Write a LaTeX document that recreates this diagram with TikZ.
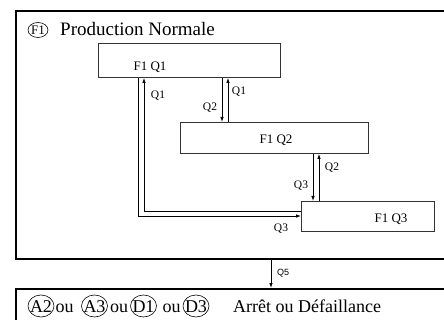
\documentclass[tikz,border=0pt]{standalone}
\usepackage{fontspec}
\setmainfont{Liberation Serif}
\newfontfamily\qfont{Liberation Sans}
\usetikzlibrary{arrows.meta}
\begin{document}
\begin{tikzpicture}[x=1pt,y=-1pt,
  box/.style={draw=black!80, line width=0.9pt, inner sep=0pt, anchor=north west},
  frame/.style={draw, line width=1.8pt, inner sep=0pt, anchor=north west},
  boxtxt/.style={font=\fontsize{13}{14}\selectfont, inner sep=0pt, anchor=base},
  lbl/.style={font=\fontsize{11.5}{12}\selectfont, inner sep=0pt, anchor=base},
  big/.style={font=\fontsize{18}{20}\selectfont, inner sep=0pt, anchor=base},
  flow/.style={line width=0.8pt, -{Latex[length=5pt,width=3.5pt]}},
  ring/.style={line width=0.6pt}
]
\useasboundingbox (0,0) rectangle (444,320);
\clip (0,0) rectangle (444,320);

% frames
\node[frame, minimum width=440pt, minimum height=248pt] (f1) at (15,10) {};
\node[frame, minimum width=440pt, minimum height=50pt] (bot) at (15,288) {};

% title
\node[font=\fontsize{13}{14}\selectfont, inner sep=0pt, anchor=base] (tf1) at (38,34.5) {F1};
\draw[ring] (38,30) ellipse (10pt and 7.5pt);
\node[font=\fontsize{19}{21}\selectfont, inner sep=0pt, anchor=base west] (title) at (60,36) {Production Normale};

% boxes
\node[box, minimum width=182pt, minimum height=34pt] (q1) at (98,43) {};
\node[box, minimum width=188pt, minimum height=31pt] (q2) at (180,122) {};
\node[box, minimum width=133pt, minimum height=30pt] (q3) at (301,201) {};
\node[boxtxt] (t1) at (150,71) {F1 Q1};
\node[boxtxt] (t2) at (276,143.5) {F1 Q2};
\node[boxtxt] (t3) at (391,222.5) {F1 Q3};

% links Q1 <-> Q2
\draw[flow] (222,0 |- q1.south) -- (222,0 |- q2.north);
\draw[flow] (228,0 |- q2.north) -- (228,0 |- q1.south);
\node[lbl] (l12a) at (210,111) {Q2};
\node[lbl] (l12b) at (239,95) {Q1};

% links Q2 <-> Q3
\draw[flow] (313,0 |- q2.south) -- (313,0 |- q3.north);
\draw[flow] (319,0 |- q3.north) -- (319,0 |- q2.south);
\node[lbl] (l23a) at (301,189) {Q3};
\node[lbl] (l23b) at (332,171) {Q2};

% long loop Q3 -> Q1 and Q1 -> Q3
\draw[flow] (q3.west |- 0,211) -- (144,211) -- (144,0 |- q1.south);
\draw[flow] (138,0 |- q1.south) -- (138,216) -- (q3.west |- 0,216);
\node[lbl] (l31) at (158,99) {Q1};
\node[lbl] (l13) at (281,232) {Q3};

% Q5
\draw[flow] (271,0 |- f1.south) -- (271,0 |- bot.north);
\node[font=\qfont\fontsize{9}{10}\selectfont, inner sep=0pt, anchor=base] (l5) at (283,275.5) {Q5};

% bottom row
\node[big] (a2) at (41,312) {A2};
\draw[ring] (41,306) ellipse (13pt and 11pt);
\node[big] (ou1) at (64.5,312) {ou};
\node[big] (a3) at (94.5,312) {A3};
\draw[ring] (94.5,306) ellipse (13pt and 11pt);
\node[big] (ou2) at (119,312) {ou};
\node[big] (d1) at (143.5,312) {D1};
\draw[ring] (143.5,306) ellipse (13pt and 11pt);
\node[big] (ou3) at (171.5,312) {ou};
\node[big] (d3) at (196,312) {D3};
\draw[ring] (196,306) ellipse (13pt and 11pt);
\node[big, anchor=base west] (arr) at (233,312) {Arrêt ou Défaillance};
\end{tikzpicture}
\end{document}
